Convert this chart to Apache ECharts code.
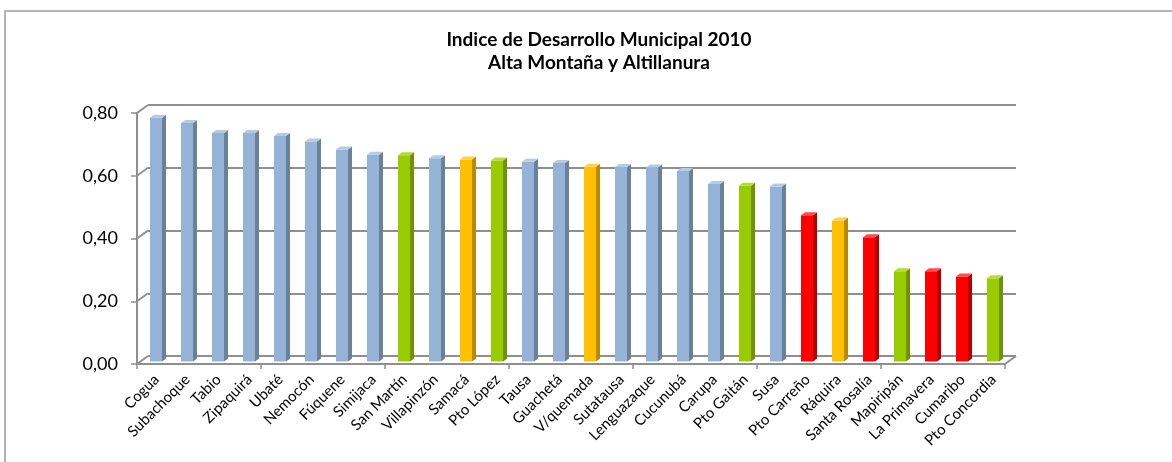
<!DOCTYPE html>
<html>
<head>
<meta charset="utf-8">
<script src="https://cdn.jsdelivr.net/npm/echarts@6/dist/echarts.min.js"></script>
<style>html,body{margin:0;padding:0;background:#fff}#c{width:1172px;height:462px}</style>
</head>
<body>
<div id="c"></div>
<script>
const titleLines = ['Indice de Desarrollo Municipal 2010', 'Alta Montaña y Altillanura'];
const categories = ['Cogua','Subachoque','Tabio','Zipaquirá','Ubaté','Nemocón','Fúquene','Simijaca','San Martín','Villapinzón','Samacá','Pto López','Tausa','Guachetá','V/quemada','Sutatausa','Lenguazaque','Cucunubá','Carupa','Pto Gaitán','Susa','Pto Carreño','Ráquira','Santa Rosalía','Mapiripán','La Primavera','Cumaribo','Pto Concordia'];
const values = [0.785,0.768,0.736,0.736,0.727,0.709,0.684,0.667,0.665,0.656,0.652,0.649,0.645,0.641,0.629,0.628,0.626,0.615,0.574,0.568,0.566,0.474,0.457,0.404,0.296,0.296,0.279,0.273];
const groups = ['blue','blue','blue','blue','blue','blue','blue','blue','green','blue','orange','green','blue','blue','orange','blue','blue','blue','blue','green','blue','red','orange','red','green','red','red','green'];
const yTicks = [0, 0.2, 0.4, 0.6, 0.8];

const palette = {
  blue:   {front:'#95B3D7', side:'#6B8197', top:'#B4CBE6'},
  green:  {front:'#99CC00', side:'#6E9200', top:'#B3DD33'},
  orange: {front:'#FFC000', side:'#B88A00', top:'#FFD24D'},
  red:    {front:'#FF0000', side:'#B40000', top:'#FF4D4D'}
};

const DX = 11, DY = 8;          // depth offset of back wall
const LABEL_SHIFT = 4;          // category labels sit slightly right of the front ticks
const FRONT = {left:137, right:167, top:113, bottom:98};
const GRID_COLOR = '#8f8f8f';

const chart = echarts.init(document.getElementById('c'), null, {renderer:'canvas'});

const barData = values.map((v, i) => [i, v, groups[i]]);

function renderBar(params, api) {
  const i = api.value(0), v = api.value(1);
  const col = palette[barData[params.dataIndex][2]];
  const base = api.coord([i, 0]);
  const top = api.coord([i, v]);
  const w = 12, d = 4, r = 3;
  const xl = base[0] + 3.5 - w / 2, xr = xl + w;
  const yb = base[1] - 2.5, yt = top[1];
  return {
    type: 'group',
    children: [
      {type:'rect', shape:{x:xl, y:yt, width:w, height:yb - yt}, style:{fill:col.front}},
      {type:'polygon', shape:{points:[[xr,yt],[xr+d,yt-r],[xr+d,yb-r],[xr,yb]]}, style:{fill:col.side}},
      {type:'polygon', shape:{points:[[xl,yt],[xl+d,yt-r],[xr+d,yt-r],[xr,yt]]}, style:{fill:col.top}}
    ]
  };
}

function renderWall(params, api) {
  const t = api.value(0);
  const cs = params.coordSys;
  const p = api.coord([0, t]);
  const x0 = cs.x, y0 = p[1];
  const children = [
    {type:'line', shape:{x1:x0, y1:y0, x2:x0 + DX, y2:y0 - DY}, style:{stroke:GRID_COLOR, lineWidth:2}}
  ];
  if (t === 0) {
    const x1 = cs.x + cs.width;
    children.push({type:'line', shape:{x1:x1, y1:y0, x2:x1 + DX, y2:y0 - DY}, style:{stroke:GRID_COLOR, lineWidth:2}});
  }
  return {type:'group', children};
}

const option = {
  animation: false,
  backgroundColor: '#ffffff',
  title: {
    text: titleLines.join('\n'),
    left: 594,
    top: 23,
    textAlign: 'center',
    textStyle: {fontFamily:'Lato', fontWeight:'bold', fontSize:19, lineHeight:23, color:'#000'}
  },
  graphic: [
    {type:'rect', shape:{x:5, y:11, width:1400, height:800}, style:{fill:'none', stroke:'#9a9a9a', lineWidth:1.5}, silent:true}
  ],
  grid: [
    {left: FRONT.left + DX, right: FRONT.right - DX, top: FRONT.top - DY, bottom: FRONT.bottom + DY},
    {left: FRONT.left, right: FRONT.right, top: FRONT.top, bottom: FRONT.bottom},
    {left: FRONT.left + LABEL_SHIFT, right: FRONT.right - LABEL_SHIFT, top: FRONT.top, bottom: FRONT.bottom}
  ],
  xAxis: [
    {type:'category', gridIndex:0, data:categories, show:true, axisLine:{show:false}, axisTick:{show:false}, axisLabel:{show:false}, splitLine:{show:false}},
    {type:'category', gridIndex:1, data:categories,
      axisLine:{show:true, lineStyle:{color:GRID_COLOR, width:2}},
      axisTick:{show:true, alignWithLabel:false, length:5, lineStyle:{color:GRID_COLOR, width:1.5}},
      axisLabel:{show:false}
    },
    {type:'category', gridIndex:2, data:categories,
      axisLine:{show:false}, axisTick:{show:false}, splitLine:{show:false},
      axisLabel:{interval:0, rotate:45, margin:13, fontFamily:'Lato', fontSize:15, color:'#000'}
    }
  ],
  yAxis: [
    {type:'value', gridIndex:0, min:0, max:0.8, interval:0.2,
      axisLine:{show:false}, axisTick:{show:false}, axisLabel:{show:false},
      splitLine:{show:true, lineStyle:{color:GRID_COLOR, width:2}}},
    {type:'value', gridIndex:1, min:0, max:0.8, interval:0.2,
      axisLine:{show:true, lineStyle:{color:GRID_COLOR, width:2}},
      axisTick:{show:true, inside:false, length:6, lineStyle:{color:GRID_COLOR, width:1.5}},
      axisLabel:{margin:19, fontFamily:'Lato', fontSize:18, color:'#000', formatter: v => v.toFixed(2).replace('.', ',')},
      splitLine:{show:false}},
    {type:'value', gridIndex:2, min:0, max:0.8, interval:0.2, show:false}
  ],
  series: [
    {type:'custom', xAxisIndex:1, yAxisIndex:1, data: yTicks.map(t => [t]), renderItem: renderWall, encode:{y:0}, silent:true, z:1},
    {type:'custom', xAxisIndex:1, yAxisIndex:1, data: barData, renderItem: renderBar, encode:{x:0, y:1}, z:3}
  ]
};
chart.setOption(option);
</script>
</body>
</html>
